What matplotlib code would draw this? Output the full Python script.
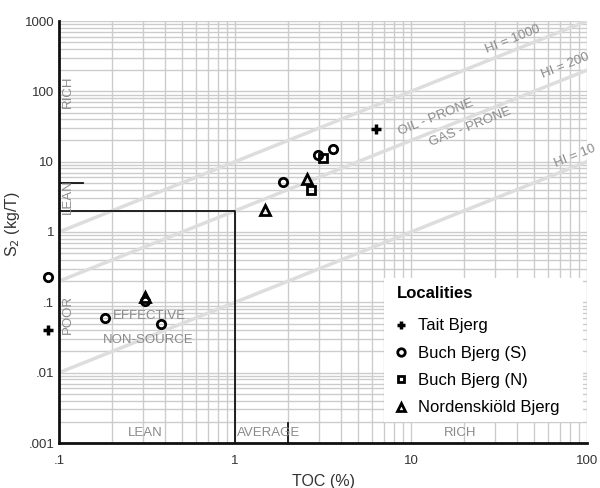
import matplotlib
matplotlib.use("Agg")
import matplotlib.pyplot as plt
from matplotlib.patches import Rectangle
import numpy as np

plt.rcParams['font.family'] = ['Liberation Sans', 'DejaVu Sans']

# Data
tait_toc = [6.3, 0.087]
tait_s2 = [29.0, 0.040]
buchS_toc = [0.087, 0.182, 0.31, 0.38, 1.87, 2.95, 3.6]
buchS_s2 = [0.23, 0.060, 0.105, 0.049, 5.1, 12.5, 15.3]
buchN_toc = [3.15, 2.7]
buchN_s2 = [11.2, 4.0]
nord_toc = [1.48, 2.57, 0.31]
nord_s2 = [2.05, 5.6, 0.118]

hi_values = [1000, 200, 10]
x_ticks = [0.1, 1, 10, 100]
x_ticklabels = ['.1', '1', '10', '100']
y_ticks = [0.001, 0.01, 0.1, 1, 10, 100, 1000]
y_ticklabels = ['.001', '.01', '.1', '1', '10', '100', '1000']

fig = plt.figure(figsize=(6.0, 4.88), dpi=100)
ax = fig.add_axes([59/600, 1-443/488, 528/600, 422/488])
ax.set_xscale('log')
ax.set_yscale('log')
ax.set_xlim(0.1, 100)
ax.set_ylim(0.001, 1000)

ax.grid(True, which='both', color='#cccccc', lw=1.0, zorder=0)
ax.set_axisbelow(True)
for s in ['top', 'right']:
    ax.spines[s].set_visible(False)
for s in ['left', 'bottom']:
    ax.spines[s].set_color('#111111')
    ax.spines[s].set_linewidth(2.0)
ax.tick_params(which='both', length=0, labelsize=9.5, colors='#333333')
ax.tick_params(axis='x', pad=9)
ax.tick_params(axis='y', pad=3.5)
ax.set_xticks(x_ticks)
ax.set_xticklabels(x_ticklabels)
ax.set_yticks(y_ticks)
ax.set_yticklabels(y_ticklabels)
ax.minorticks_on()
ax.xaxis.set_minor_formatter(plt.NullFormatter())
ax.yaxis.set_minor_formatter(plt.NullFormatter())

# HI lines
xx = np.array([0.1, 100])
for hi in hi_values:
    ax.plot(xx, hi * xx / 100, color='#dddddd', lw=2.5, zorder=1)

ang = np.degrees(np.arctan((422/6) / (528/3)))
gray = '#8a8a8a'
tk = dict(rotation=ang, color=gray, fontsize=9.5, ha='center', va='center', rotation_mode='anchor')
ax.text(38, 540, 'HI = 1000', **tk)
ax.text(75, 230, 'HI = 200', **tk)
ax.text(85, 12, 'HI = 10', **tk)
ax.text(13.8, 42, 'OIL - PRONE', **tk)
ax.text(21.6, 31, 'GAS - PRONE', **tk)

# region lines
ax.plot([0.1, 1, 1], [2, 2, 0.001], color='#111111', lw=1.3, zorder=2)
ax.plot([2, 2], [0.001, 0.0019], color='#111111', lw=1.3, zorder=2)
ax.plot([0.1, 0.137], [5, 5], color='#111111', lw=1.3, zorder=2)

# region labels
ax.text(0.104, 100, 'RICH', rotation=90, color=gray, fontsize=9.5, ha='left', va='center')
ax.text(0.104, 3.2, 'LEAN', rotation=90, color=gray, fontsize=9.5, ha='left', va='center')
ax.text(0.104, 0.068, 'POOR', rotation=90, color=gray, fontsize=9.5, ha='left', va='center')
ax.text(0.31, 0.0014, 'LEAN', color=gray, fontsize=9.5, ha='center', va='center')
ax.text(1.02, 0.0014, 'AVERAGE', color=gray, fontsize=9.5, ha='left', va='center')
ax.text(19, 0.0014, 'RICH', color=gray, fontsize=9.5, ha='center', va='center')
ax.text(0.325, 0.063, 'EFFECTIVE', color=gray, fontsize=9.5, ha='center', va='center')
ax.text(0.32, 0.029, 'NON-SOURCE', color=gray, fontsize=9.5, ha='center', va='center')

mk = dict(linestyle='none', mfc='none', mec='black', mew=2.0, ms=6, clip_on=False, zorder=5)
ax.plot(tait_toc, tait_s2, marker='+', color='black', **{**mk, 'ms': 7, 'mew': 2.5}, label='Tait Bjerg')
ax.plot(buchS_toc, buchS_s2, marker='o', **mk, label='Buch Bjerg (S)')
ax.plot(buchN_toc, buchN_s2, marker='s', **{**mk, 'ms': 5.5}, label='Buch Bjerg (N)')
ax.plot(nord_toc, nord_s2, marker='^', **{**mk, 'ms': 6.5}, label='Nordenskiöld Bjerg')

# white legend panel
ax.add_patch(Rectangle(((384-59)/528, (443-422)/422), 199/528, 144/422, transform=ax.transAxes,
                       facecolor='white', edgecolor='none', zorder=3))
leg = ax.legend(loc='upper left', bbox_to_anchor=((397-59)/528, (443-286)/422), borderaxespad=0,
                title='Localities', fontsize=12, title_fontproperties={'weight': 'bold', 'size': 12},
                frameon=False, handlelength=0.5, handletextpad=0.78, labelspacing=0.74, borderpad=0,
                markerscale=0.9)
leg._legend_box.align = 'left'
leg._legend_box.sep = 0.74 * 12 + 3.6

ax.set_xlabel('TOC (%)', fontsize=11.5, color='#333333')
ax.xaxis.set_label_coords(0.5, -(474-443)/422)
ax.set_ylabel('S$_2$ (kg/T)', fontsize=11.5, color='#333333')
ax.yaxis.set_label_coords(-(59-22)/528, (443-224)/422)

fig.savefig('out.png', dpi=100)
